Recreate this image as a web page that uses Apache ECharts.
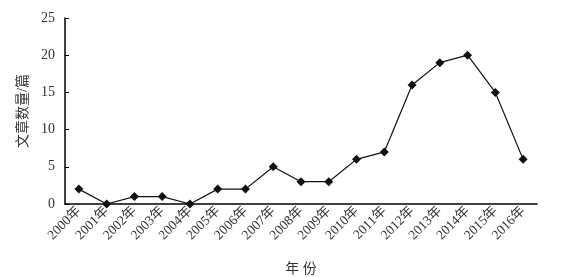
<!DOCTYPE html>
<html><head><meta charset="utf-8">
<script src="https://cdn.jsdelivr.net/npm/echarts@6/dist/echarts.min.js"></script>
<style>html,body{margin:0;padding:0;background:#fff}#c{width:564px;height:277px}</style>
</head><body><div id="c"></div>
<script>
const categories = ['2000年','2001年','2002年','2003年','2004年','2005年','2006年','2007年','2008年','2009年','2010年','2011年','2012年','2013年','2014年','2015年','2016年'];
const values = [2,0,1,1,0,2,2,5,3,3,6,7,16,19,20,15,6];
const yTicks = {min:0, max:25, interval:5};
const serif = '"Liberation Serif","DejaVu Serif","Noto Sans CJK SC",serif';
const chart = echarts.init(document.getElementById('c'));
chart.setOption({
  animation:false,
  grid:{left:65,right:27,top:18,bottom:73,containLabel:false,outerBoundsMode:'none'},
  xAxis:{
    type:'category', data:categories, boundaryGap:true,
    name:'年 份', nameLocation:'middle', nameGap:58,
    nameTextStyle:{color:'#333',fontSize:14,fontFamily:serif},
    axisLine:{lineStyle:{color:'#000',width:1.5}},
    axisTick:{inside:true,length:4,lineStyle:{color:'#000'}},
    axisLabel:{rotate:45,color:'#333',fontSize:13.5,fontFamily:serif,margin:5}
  },
  yAxis:{
    type:'value', min:yTicks.min, max:yTicks.max, interval:yTicks.interval,
    name:'文章数量/篇', nameLocation:'middle', nameGap:29, nameRotate:90,
    nameTextStyle:{color:'#333',fontSize:14,fontFamily:serif},
    axisLine:{show:true,lineStyle:{color:'#000',width:1.5}},
    axisTick:{show:true,inside:true,length:4,lineStyle:{color:'#000'}},
    splitLine:{show:false},
    axisLabel:{color:'#333',fontSize:14,fontFamily:serif,margin:10}
  },
  series:[{
    type:'line', data:values, symbol:'diamond', symbolSize:9,
    lineStyle:{color:'#111',width:1.2}, itemStyle:{color:'#111'}
  }]
});
</script></body></html>
